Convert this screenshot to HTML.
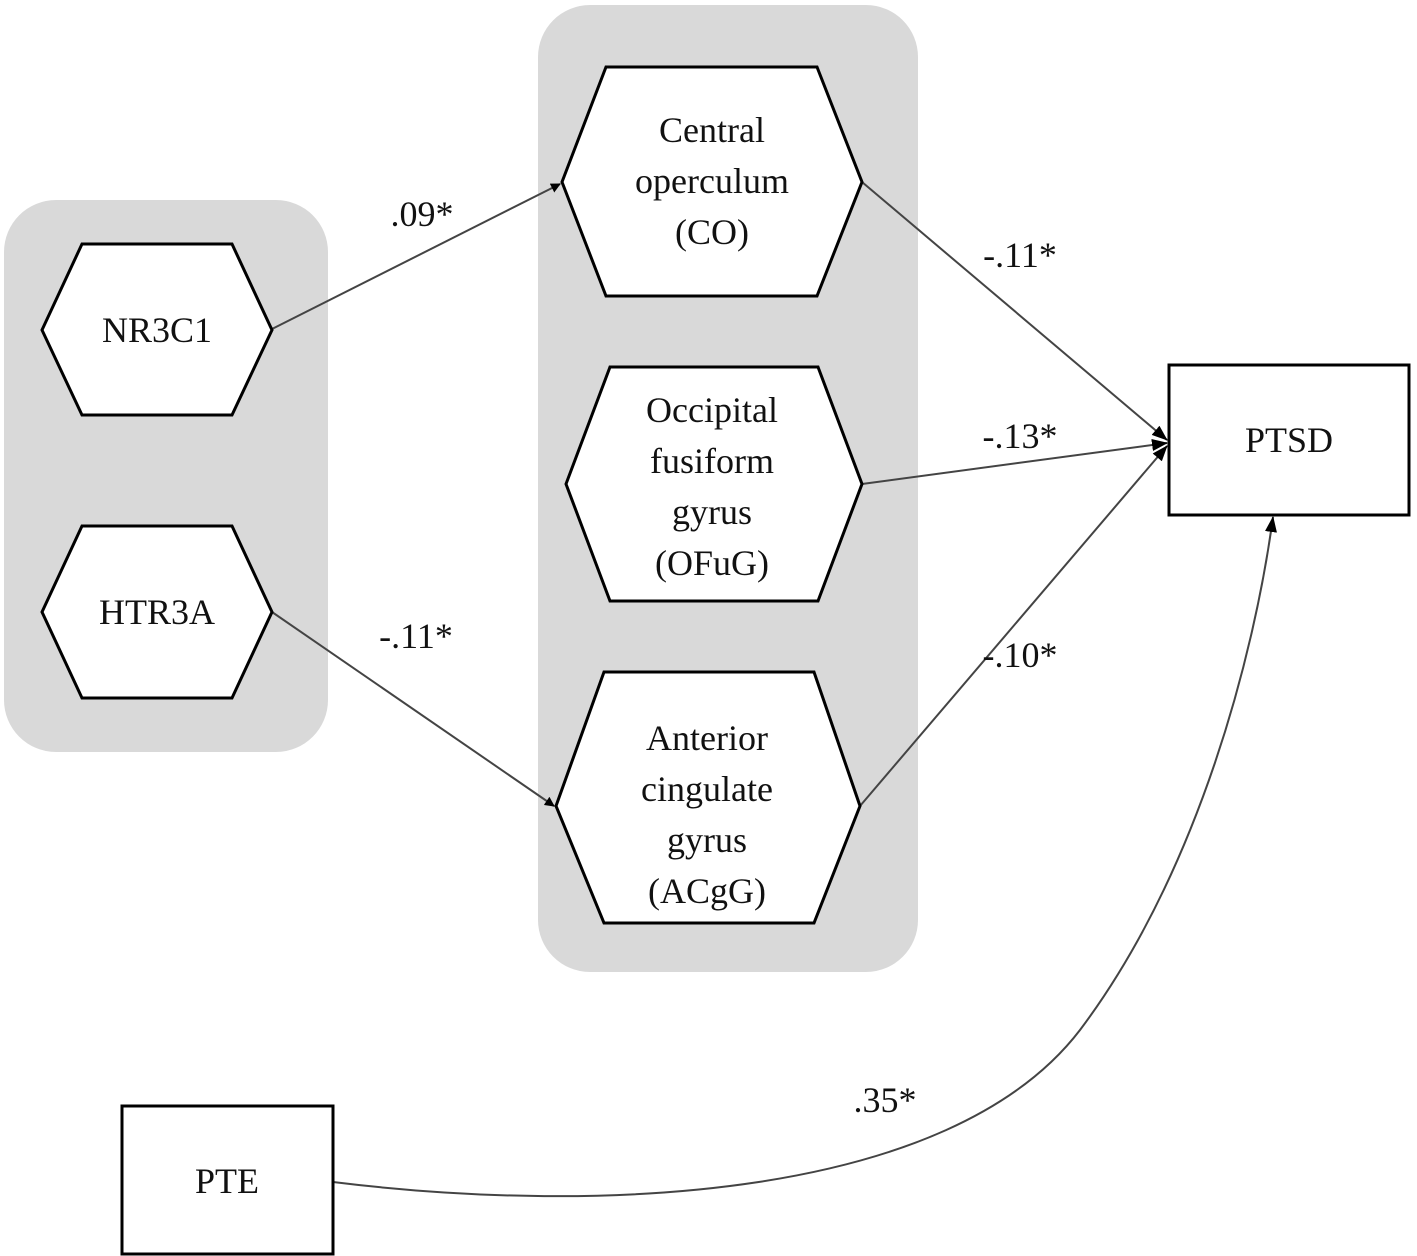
<!DOCTYPE html>
<html><head><meta charset="utf-8"><style>
html,body{margin:0;padding:0;background:#fff;}
svg{display:block;}
text{font-family:"Liberation Serif",serif;font-size:36px;fill:#111;text-anchor:middle;}
</style></head><body>
<svg width="1417" height="1256" viewBox="0 0 1417 1256" xmlns="http://www.w3.org/2000/svg">
<defs>
<marker id="a" markerWidth="10" markerHeight="10" refX="9" refY="5" orient="auto" markerUnits="userSpaceOnUse" viewBox="0 0 10 10">
<path d="M0,0 L10,5 L0,10 z" fill="#000"/></marker>
<marker id="b" markerWidth="16" markerHeight="16" refX="15" refY="8" orient="auto" markerUnits="userSpaceOnUse" viewBox="0 0 16 16">
<path d="M0,2 L16,8 L0,14 z" fill="#000"/></marker>
</defs>
<rect x="4" y="200" width="324" height="552" rx="52" fill="#d9d9d9"/>
<rect x="538" y="5" width="380" height="967" rx="52" fill="#d9d9d9"/>

<g stroke="#444" stroke-width="2" fill="none">
<line x1="272" y1="329" x2="560" y2="184" marker-end="url(#a)"/>
<line x1="272" y1="612" x2="554" y2="806" marker-end="url(#a)"/>
<line x1="862" y1="182" x2="1167" y2="440" marker-end="url(#b)"/>
<line x1="862" y1="484" x2="1167" y2="443" marker-end="url(#b)"/>
<line x1="860" y1="806" x2="1167" y2="446" marker-end="url(#b)"/>
<path d="M333,1182 C600,1215 950,1200 1080,1030 C1200,870 1255,650 1273,517" marker-end="url(#b)"/>
</g>

<g fill="#fff" stroke="#000" stroke-width="3">
<polygon points="42,330 82,244 232,244 272,330 232,415 82,415"/>
<polygon points="42,612 82,526 232,526 272,612 232,698 82,698"/>
<polygon points="562,182 606,67 817,67 862,182 817,296 606,296"/>
<polygon points="566,484 610,367 818,367 862,484 818,601 610,601"/>
<polygon points="556,806 604,672 814,672 860,806 814,923 604,923"/>
<rect x="1169" y="365" width="240" height="150"/>
<rect x="122" y="1106" width="211" height="148"/>
</g>

<text x="157" y="342">NR3C1</text>
<text x="157" y="624">HTR3A</text>
<text x="712" y="142">Central</text>
<text x="712" y="193">operculum</text>
<text x="712" y="244">(CO)</text>
<text x="712" y="422">Occipital</text>
<text x="712" y="473">fusiform</text>
<text x="712" y="524">gyrus</text>
<text x="712" y="575">(OFuG)</text>
<text x="707" y="750">Anterior</text>
<text x="707" y="801">cingulate</text>
<text x="707" y="852">gyrus</text>
<text x="707" y="903">(ACgG)</text>
<text x="1289" y="452">PTSD</text>
<text x="227" y="1193">PTE</text>

<text x="422" y="226">.09*</text>
<text x="416" y="648">-.11*</text>
<text x="1020" y="267">-.11*</text>
<text x="1020" y="448">-.13*</text>
<text x="1020" y="667">-.10*</text>
<text x="885" y="1112">.35*</text>
</svg>
</body></html>
